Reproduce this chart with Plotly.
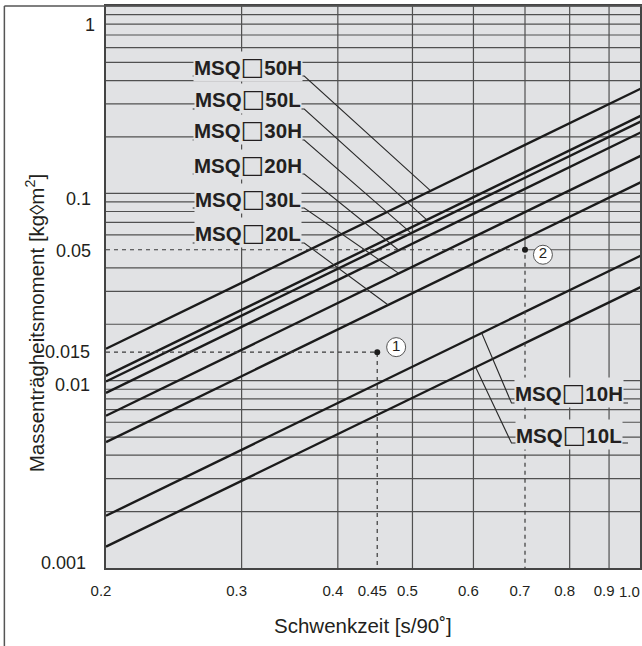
import math
import plotly.graph_objects as go

# ---------------- data ----------------
models = ["MSQ□50H", "MSQ□50L", "MSQ□30H", "MSQ□20H",
          "MSQ□30L", "MSQ□20L", "MSQ□10H", "MSQ□10L"]
t_ends = [0.2, 1.0]                                   # Schwenkzeit [s/90°] at both ends
J_at_t02 = [0.0148, 0.0106, 0.0099, 0.0086, 0.0065, 0.0047, 0.0019, 0.0013]
J_at_t10 = [0.370, 0.265, 0.247, 0.216, 0.162, 0.117, 0.0475, 0.0323]
leader_t = [0.528, 0.522, 0.498, 0.48, 0.48, 0.465, 0.615, 0.604]  # where leaders touch the lines

example_t = [0.45, 0.7]
example_J = [0.0142, 0.05]          # as drawn in the picture (labelled 0.015 and 0.05)
example_no = ["1", "2"]

x_tickvals = [0.2, 0.3, 0.4, 0.45, 0.5, 0.6, 0.7, 0.8, 0.9]
x_ticktext = ["0.2", "0.3", "0.4", "0.45", "0.5", "0.6", "0.7", "0.8", "0.9"]
x_last_tick = "1.0"
y_tickvals = [0.001, 0.01, 0.0142, 0.05, 0.1, 1.0]
y_ticktext = ["0.001", "0.01", "0.015", "0.05", "0.1", "1"]

x_grid = [0.3, 0.4, 0.5, 0.6, 0.8, 0.9]
y_grid = [0.002, 0.003, 0.004, 0.005, 0.006, 0.007, 0.008, 0.009,
          0.01, 0.02, 0.03, 0.04, 0.06, 0.07, 0.08, 0.09,
          0.1, 0.2, 0.3, 0.4, 0.5, 0.6, 0.7, 0.8, 0.9, 1.0]

x_title = "Schwenkzeit [s/90˚]"
y_title = "Massenträgheitsmoment [kg◊m<sup>2</sup>]"

# ---------------- layout geometry ----------------
W, H = 642, 646
ML, MT, MB, MR = 106, 6, 78, 0
PW, PH = W - ML - MR, H - MT - MB
PX_PER_DEC = 773.0
X_RANGE = [math.log10(0.2), math.log10(0.2) + PW / PX_PER_DEC]
Y_RANGE = [-3.0, 0.0]

BG = "#e1e2e4"
INK = "#231f20"
GRID = "#505050"
FONT = "Liberation Sans, Arial, Helvetica, sans-serif"


def paper(px, py):
    return (px - ML) / PW, (H - MB - py) / PH


def data(px, py):
    xp, yp = paper(px, py)
    return (10 ** (X_RANGE[0] + xp * (X_RANGE[1] - X_RANGE[0])),
            10 ** (Y_RANGE[0] + yp * (Y_RANGE[1] - Y_RANGE[0])))


def pixel(x, y):
    xp = (math.log10(x) - X_RANGE[0]) / (X_RANGE[1] - X_RANGE[0])
    yp = (math.log10(y) - Y_RANGE[0]) / (Y_RANGE[1] - Y_RANGE[0])
    return ML + xp * PW, H - MB - yp * PH


def J_on_line(i, t):
    lx0, lx1 = math.log10(t_ends[0]), math.log10(t_ends[1])
    ly0, ly1 = math.log10(J_at_t02[i]), math.log10(J_at_t10[i])
    f = (math.log10(t) - lx0) / (lx1 - lx0)
    return 10 ** (ly0 + f * (ly1 - ly0))


fig = go.Figure()

# series lines
for i, m in enumerate(models):
    fig.add_trace(go.Scatter(x=t_ends, y=[J_at_t02[i], J_at_t10[i]], mode="lines",
                             line=dict(color="#1b1b1b", width=2.4), name=m,
                             showlegend=False, hoverinfo="skip"))

# label layout (pixel positions of text centre, underline y, underline x-extent)
label_cx = [249, 249, 249, 249, 249, 249, 571, 571]
label_cy = [66, 98, 130, 164, 198, 232, 392, 434]
under_y = [76, 109, 140, 174, 208, 243, 403, 443]
under_x0 = [193, 193, 193, 193, 193, 193, 630, 630]
under_x1 = [305, 305, 305, 305, 305, 305, 513, 513]

for i, m in enumerate(models):
    xa, ya = data(under_x0[i], under_y[i])
    xb, yb = data(under_x1[i], under_y[i])
    fig.add_trace(go.Scatter(x=[xa, xb, leader_t[i]], y=[ya, yb, J_on_line(i, leader_t[i])],
                             mode="lines", line=dict(color="#2a2a2a", width=1.1),
                             showlegend=False, hoverinfo="skip"))

# example guide lines
for t, J in zip(example_t, example_J):
    fig.add_trace(go.Scatter(x=[t_ends[0], t, t], y=[J, J, 10 ** Y_RANGE[0]], mode="lines",
                             line=dict(color="#3a3a3a", width=1.2, dash="4px,4px"),
                             showlegend=False, hoverinfo="skip"))
fig.add_trace(go.Scatter(x=example_t, y=example_J, mode="markers",
                         marker=dict(color="#1b1b1b", size=6),
                         showlegend=False, hoverinfo="skip"))

# example number circles, offset from the points by a few pixels
circ_off = [(19, -5), (18, 5)]
cx, cy = [], []
for (t, J), (dx, dy) in zip(zip(example_t, example_J), circ_off):
    px, py = pixel(t, J)
    x, y = data(px + dx, py + dy)
    cx.append(x)
    cy.append(y)
fig.add_trace(go.Scatter(x=cx, y=cy, mode="markers+text", text=example_no,
                         textposition="middle center",
                         textfont=dict(family=FONT, size=15, color=INK),
                         marker=dict(symbol="circle", size=19, color="white",
                                     line=dict(color="#555555", width=1)),
                         showlegend=False, hoverinfo="skip"))

shapes = []
# grid lines
for g in x_grid:
    shapes.append(dict(type="line", xref="x", yref="paper", x0=g, x1=g, y0=0, y1=1,
                       line=dict(color=GRID, width=1.2), layer="below"))
# 0.7 line only above example 2
shapes.append(dict(type="line", xref="x", yref="y", x0=example_t[1], x1=example_t[1],
                   y0=example_J[1], y1=10 ** Y_RANGE[1],
                   line=dict(color=GRID, width=1.2), layer="below"))
for g in y_grid:
    shapes.append(dict(type="line", xref="paper", yref="y", x0=0, x1=1, y0=g, y1=g,
                       line=dict(color=GRID, width=1.2), layer="below"))
# 0.05 line only right of example 2
shapes.append(dict(type="line", xref="x", yref="y", x0=example_t[1], x1=10 ** X_RANGE[1],
                   y0=example_J[1], y1=example_J[1],
                   line=dict(color=GRID, width=1.2), layer="below"))

# outer frame (left and top)
fx, _ = paper(4, 0)
_, fy_bot = paper(0, H + 10)
shapes.append(dict(type="line", xref="paper", yref="paper", x0=fx, x1=fx, y0=1, y1=fy_bot,
                   line=dict(color="#555555", width=1.5)))
shapes.append(dict(type="line", xref="paper", yref="paper", x0=fx, x1=1.02, y0=1, y1=1,
                   line=dict(color="#555555", width=1.5)))

BOX = "<span style=\"font-family:DejaVu Sans;font-size:25px;font-weight:normal\">□</span>"

annotations = []
for i, m in enumerate(models):
    xp, yp = paper(label_cx[i], label_cy[i])
    txt = "<b>" + m.replace("□", "</b>" + BOX + "<b>") + "</b>"
    annotations.append(dict(xref="paper", yref="paper", x=xp, y=yp, text=txt,
                            showarrow=False, xanchor="center", yanchor="middle",
                            font=dict(family=FONT, size=20.5, color=INK),
                            bgcolor=BG, borderpad=0))

# y tick labels (placed individually: the scan sets them slightly off their lines)
ytl_dy = [-5, 4, 0, 1, 6, 19]
ytl_right = [88, 92, 92, 93, 93, 97]
for v, s, dy, r in zip(y_tickvals, y_ticktext, ytl_dy, ytl_right):
    _, py = pixel(0.2, v)
    xp, yp = paper(r, py + dy)
    annotations.append(dict(xref="paper", yref="paper", x=xp, y=yp, text=s,
                            showarrow=False, xanchor="right", yanchor="middle",
                            font=dict(family=FONT, size=18, color=INK)))

# last x tick label (at the cut edge)
xp, yp = paper(644, 591)
annotations.append(dict(xref="paper", yref="paper", x=xp, y=yp, text=x_last_tick,
                        showarrow=False, xanchor="right", yanchor="middle",
                        font=dict(family=FONT, size=15, color=INK)))

# axis titles
xp, yp = paper(364, 625)
annotations.append(dict(xref="paper", yref="paper", x=xp, y=yp, text=x_title,
                        showarrow=False, xanchor="center", yanchor="middle",
                        font=dict(family=FONT, size=20.5, color=INK)))
xp, yp = paper(35, 323)
annotations.append(dict(xref="paper", yref="paper", x=xp, y=yp, text=y_title,
                        showarrow=False, xanchor="center", yanchor="middle", textangle=-90,
                        font=dict(family=FONT, size=20.5, color=INK)))

fig.update_layout(
    width=W, height=H,
    margin=dict(l=ML, r=MR, t=MT, b=MB, pad=0),
    paper_bgcolor="white", plot_bgcolor=BG,
    shapes=shapes, annotations=annotations, showlegend=False,
    xaxis=dict(type="log", range=X_RANGE, tickvals=x_tickvals, ticktext=x_ticktext,
               showgrid=False, zeroline=False, ticks="", ticklabelstandoff=8,
               ticklabelshift=-5, ticklabeloverflow="allow",
               tickfont=dict(family=FONT, size=15, color=INK),
               showline=True, linecolor="#444444", linewidth=1.5, mirror=True),
    yaxis=dict(type="log", range=Y_RANGE, showticklabels=False,
               showgrid=False, zeroline=False, ticks="",
               showline=True, linecolor="#444444", linewidth=1.5, mirror=True),
)

fig.write_html("out.html", config={"displayModeBar": False},
               post_script="document.body.style.margin='0';document.body.style.overflow='hidden';")
